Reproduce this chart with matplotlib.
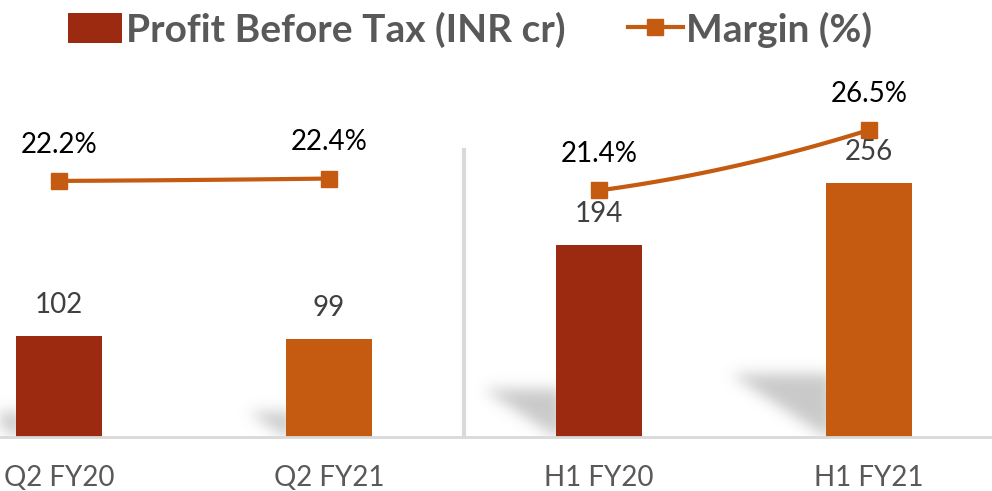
import numpy as np
import matplotlib
matplotlib.use("Agg")
import matplotlib.pyplot as plt
from matplotlib.patches import Patch
from matplotlib.lines import Line2D

categories = ["Q2 FY20", "Q2 FY21", "H1 FY20", "H1 FY21"]
pbt = [102, 99, 194, 256]
margin = [22.2, 22.4, 21.4, 26.5]
margin_labels = ["22.2%", "22.4%", "21.4%", "26.5%"]
groups = [[0, 1], [2, 3]]

RED = "#9C2A10"
ORANGE = "#C55A11"
GRAY_TXT = "#595959"
FONT = ["Lato", "DejaVu Sans"]
plt.rcParams["font.family"] = FONT

W, H = 992, 491
fig = plt.figure(figsize=(W / 100, H / 100), dpi=100)
fig.patch.set_facecolor("white")
ax_bottom_px, ax_top_px = 437, 60
ax = fig.add_axes([0, (H - ax_bottom_px) / H, 1, (ax_bottom_px - ax_top_px) / H])
ax.patch.set_alpha(0)
x = np.arange(len(categories))
xlim = (-59 / 270, (W - 59) / 270)
ylim = (0, 380)
ax.set_xlim(*xlim)
ax.set_ylim(*ylim)

bar_w = 0.315
colors = [RED, ORANGE, RED, ORANGE]

# soft shadows behind bars
ax_h_px = ax_bottom_px - ax_top_px
gx, gy = np.meshgrid(np.arange(W) + 0.5, np.arange(ax_h_px) + 0.5)
mask = np.zeros((ax_h_px, W))
for xi, v in zip(x, pbt):
    left_px = (xi - bar_w / 2 - xlim[0]) / (xlim[1] - xlim[0]) * W
    h_px = v / (ylim[1] - ylim[0]) * ax_h_px
    sh = 0.25 * h_px
    sw = 0.38 * h_px
    yy = gy
    inside = (gx <= left_px + 6) & (yy <= sh) & (gx >= left_px - sw * (yy / sh))
    mask[inside] = 1.0
sig = 7.0
k = np.arange(-22, 23)
kern = np.exp(-k ** 2 / (2 * sig ** 2))
kern /= kern.sum()
mask = np.apply_along_axis(lambda r: np.convolve(r, kern, mode="same"), 1, mask)
mask = np.apply_along_axis(lambda c: np.convolve(c, kern, mode="same"), 0, mask)
rgba = np.zeros((ax_h_px, W, 4))
rgba[..., :3] = 0.72
rgba[..., 3] = np.clip(mask, 0, 1) * 0.75
ax.imshow(rgba, extent=(xlim[0], xlim[1], ylim[0], ylim[1]), origin="lower",
          aspect="auto", zorder=1, interpolation="bilinear")

ax.bar(x, pbt, width=bar_w, color=colors, zorder=2)
for xi, v in zip(x, pbt):
    ax.annotate(str(v), (xi, v), xytext=(0, 22), textcoords="offset points",
                ha="center", va="center", fontsize=20, color="#404040", zorder=5)

ax2 = ax.twinx()
ax2.set_position(ax.get_position())
ax2.set_ylim(0.6, 32.4)
ax2.patch.set_alpha(0)
for g in groups:
    gxv = np.array([x[i] for i in g], dtype=float)
    gyv = np.array([margin[i] for i in g])
    t = np.linspace(0, 1, 60)
    cx = gxv[0] + (gxv[1] - gxv[0]) * t
    cy = gyv[0] + (gyv[1] - gyv[0]) * (0.6 * t + 0.4 * t ** 2)
    ax2.plot(cx, cy, color=ORANGE, lw=3, zorder=3, solid_capstyle="round")
    ax2.plot(gxv, gyv, ls="none", marker="s", ms=11, color=ORANGE, zorder=4)
for xi, m, lab in zip(x, margin, margin_labels):
    ax2.annotate(lab, (xi, m), xytext=(0, 26), textcoords="offset points",
                 ha="center", va="center", fontsize=20, color="black", zorder=5)

for a in (ax, ax2):
    for sp in a.spines.values():
        sp.set_visible(False)
    a.set_yticks([])
ax.set_xticks(x)
ax.set_xticklabels(categories, fontsize=20, color=GRAY_TXT)
ax.tick_params(axis="x", length=0, pad=20)
ax.axhline(0, color="#D9D9D9", lw=2, zorder=3, clip_on=False)
ax.plot([1.5, 1.5], [0, (ax_bottom_px - 150) / ax_h_px * ylim[1]], color="#D9D9D9", lw=3, zorder=1)

handles = [Patch(facecolor=RED, edgecolor="none"),
           Line2D([0], [0], color=ORANGE, lw=3, marker="s", ms=11)]
leg = fig.legend(handles, ["Profit Before Tax (INR cr)", "Margin (%)"], loc="center",
                 bbox_to_anchor=(0.474, 0.94), ncol=2, frameon=False,
                 prop={"family": FONT, "weight": "bold", "size": 28},
                 handlelength=1.4, handleheight=0.8, handletextpad=0.1, columnspacing=1.6)
for t in leg.get_texts():
    t.set_color(GRAY_TXT)

fig.savefig("out.png", dpi=100, facecolor="white")
